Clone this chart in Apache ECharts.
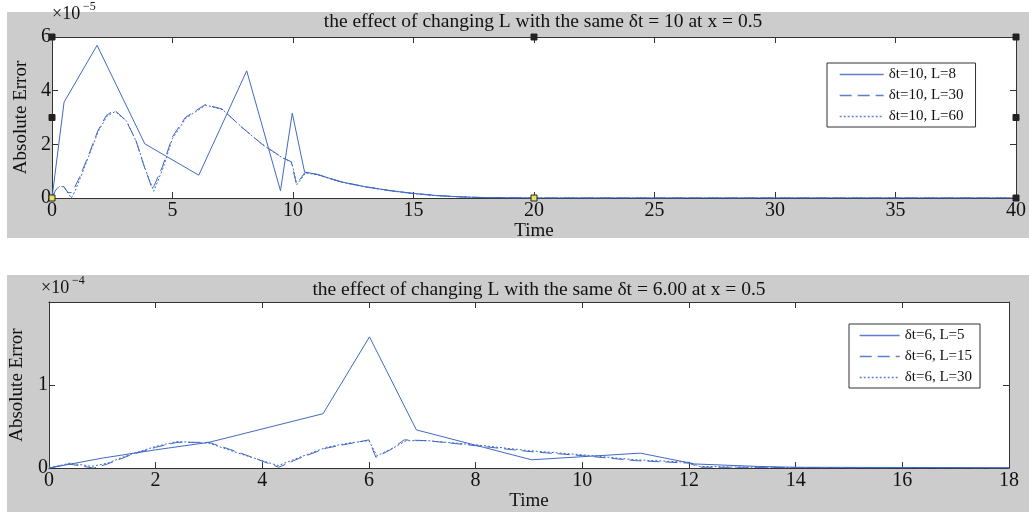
<!DOCTYPE html>
<html>
<head>
<meta charset="utf-8">
<script src="https://cdn.jsdelivr.net/npm/echarts@6/dist/echarts.min.js"></script>
<style>
  html, body { margin: 0; padding: 0; background: #fff; }
  #wrap { position: relative; width: 1029px; height: 512px; }
  .panel { position: absolute; background: #cccccc; }
  #chart { position: absolute; left: 0; top: 0; width: 1029px; height: 512px; }
</style>
</head>
<body>
<div id="wrap">
  <div class="panel" style="left:7px;top:12px;width:1022px;height:226px"></div>
  <div class="panel" style="left:7px;top:275px;width:1022px;height:237px"></div>
  <div id="chart"></div>
</div>
<script>
// ---- data (y in units of the axis multiplier) ----
// top panel: dt = 10, values x 1e-5
const topNames = ['δt=10, L=8', 'δt=10, L=30', 'δt=10, L=60'];
const topL8X = [0, 0.5, 1.87, 3.85, 6.09, 8.08, 9.48, 9.97, 10.48, 11, 12, 13, 14, 15, 16, 17, 18, 20, 40];
const topL8Y = [0, 3.57, 5.69, 2.02, 0.85, 4.74, 0.27, 3.16, 0.97, 0.88, 0.6, 0.42, 0.28, 0.17, 0.09, 0.04, 0.015, 0, 0];
const topL30X = [0, 0.15, 0.33, 0.5, 0.67, 0.8, 0.9, 1.15, 1.49, 1.91, 2.25, 2.59, 3.07, 3.48, 3.83, 4.17, 4.58, 4.99, 5.54, 6.36, 7.05, 7.87, 8.7, 9.52, 9.93, 10.14, 10.5, 11, 12, 13, 14, 15, 16, 17, 18, 20, 40];
const topL30Y = [0, 0.3, 0.46, 0.42, 0.2, 0.2, 0.32, 0.79, 1.53, 2.52, 3.07, 3.28, 2.89, 2.15, 1.16, 0.32, 1.16, 2.27, 3.01, 3.48, 3.32, 2.64, 2.02, 1.53, 1.35, 0.52, 0.95, 0.88, 0.6, 0.42, 0.28, 0.17, 0.09, 0.04, 0.015, 0, 0];
const topL60X = [0, 0.15, 0.33, 0.5, 0.67, 0.8, 0.95, 1.2, 1.52, 1.93, 2.28, 2.62, 3.1, 3.5, 3.86, 4.22, 4.6, 5.0, 5.56, 6.38, 7.07, 7.9, 8.72, 9.55, 9.95, 10.16, 10.52, 11, 12, 13, 14, 15, 16, 17, 18, 20, 40];
const topL60Y = [0, 0.28, 0.44, 0.4, 0.18, 0.0, 0.25, 0.8, 1.55, 2.5, 3.05, 3.22, 2.86, 2.1, 1.1, 0.25, 1.1, 2.22, 2.98, 3.46, 3.3, 2.62, 2.0, 1.5, 1.33, 0.5, 0.93, 0.87, 0.59, 0.41, 0.27, 0.16, 0.08, 0.04, 0.01, 0, 0];

// bottom panel: dt = 6, values x 1e-4
const botNames = ['δt=6, L=5', 'δt=6, L=15', 'δt=6, L=30'];
const botL5X = [0, 1, 2, 3, 5.14, 6.01, 6.89, 9.05, 11.09, 12.1, 13.3, 14, 18];
const botL5Y = [0, 0.12, 0.22, 0.31, 0.655, 1.58, 0.46, 0.1, 0.18, 0.05, 0.02, 0.01, 0.005];
const botL15X = [0, 0.37, 0.84, 1.1, 1.5, 2.0, 2.4, 3.0, 3.6, 4.31, 4.7, 5.2, 5.6, 6.0, 6.13, 6.4, 6.66, 7.1, 8.0, 9.0, 10.0, 11.0, 12.0, 12.2, 13, 14, 15, 16, 17, 18];
const botL15Y = [0, 0.05, 0.0, 0.05, 0.15, 0.25, 0.31, 0.31, 0.18, 0.01, 0.12, 0.24, 0.29, 0.34, 0.13, 0.22, 0.34, 0.33, 0.27, 0.2, 0.15, 0.09, 0.06, 0.01, 0.01, 0.006, 0.004, 0.003, 0.002, 0];
const botL30X = [0, 0.4, 0.8, 1.1, 1.5, 2.0, 2.4, 3.0, 3.6, 4.3, 4.7, 5.2, 5.6, 6.0, 6.15, 6.42, 6.7, 7.1, 8.0, 9.0, 10.0, 11.0, 12.0, 12.2, 13, 14, 15, 16, 17, 18];
const botL30Y = [0, 0.06, 0.02, 0.06, 0.16, 0.26, 0.32, 0.3, 0.17, 0.03, 0.13, 0.25, 0.3, 0.33, 0.15, 0.23, 0.33, 0.33, 0.28, 0.21, 0.16, 0.1, 0.07, 0.02, 0.012, 0.007, 0.004, 0.003, 0.002, 0];

const FONT = '"Liberation Serif", "Times New Roman", serif';
const BLUE = '#4169c4';
const AXIS = '#333';
const INK = '#111';

function pairs(xs, ys) { return xs.map((x, i) => [x, ys[i]]); }

function xAxes(grid, max, interval) {
  const base = {
    gridIndex: grid, type: 'value', min: 0, max: max, interval: interval,
    axisLine: { show: true, onZero: false, lineStyle: { color: AXIS, width: 1 } },
    axisTick: { show: true, inside: true, length: 6, lineStyle: { color: AXIS } },
    splitLine: { show: false }
  };
  return [
    Object.assign({}, base, {
      position: 'bottom',
      axisLabel: { fontFamily: FONT, fontSize: 20, color: INK, margin: 3 },
      name: 'Time', nameLocation: 'middle', nameGap: 22,
      nameTextStyle: { fontFamily: FONT, fontSize: 19, color: INK }
    }),
    Object.assign({}, base, { position: 'top', axisLabel: { show: false } })
  ];
}

function yAxes(grid, max, interval, hideTop, gap) {
  const base = {
    gridIndex: grid, type: 'value', min: 0, max: max, interval: interval,
    axisLine: { show: true, onZero: false, lineStyle: { color: AXIS, width: 1 } },
    axisTick: { show: true, inside: true, length: 6, lineStyle: { color: AXIS } },
    splitLine: { show: false }
  };
  return [
    Object.assign({}, base, {
      position: 'left',
      axisLabel: {
        fontFamily: FONT, fontSize: 20, color: INK, margin: 1,
        formatter: v => (hideTop && v === max) ? '' : String(v)
      },
      name: 'Absolute Error', nameLocation: 'middle', nameGap: gap,
      nameTextStyle: { fontFamily: FONT, fontSize: 19, color: INK }
    }),
    Object.assign({}, base, { position: 'right', axisLabel: { show: false } })
  ];
}

const styles = [
  { type: 'solid' },
  { type: [12, 6] },
  { type: [2, 2] }
];

function lineSeries(name, data, xi, yi, k) {
  return {
    name: name, type: 'line', data: data, xAxisIndex: xi, yAxisIndex: yi,
    symbol: 'none', animation: false, silent: true,
    lineStyle: Object.assign({ color: BLUE, width: 1 }, styles[k]),
    itemStyle: { color: BLUE }
  };
}

function legend(names, left, top, itemWidth, pad) {
  return {
    data: names, orient: 'vertical', left: left, top: top,
    backgroundColor: '#fff', borderColor: '#333', borderWidth: 1,
    padding: pad, itemGap: 6, itemWidth: itemWidth, itemHeight: 14,
    selectedMode: false,
    itemStyle: { opacity: 0, borderWidth: 0 },
    lineStyle: { width: 1.4, color: BLUE, opacity: 0.85 },
    textStyle: { fontFamily: FONT, fontSize: 15, color: INK }
  };
}

// the "x10^n" multiplier labels above each y axis
function multiplier(id, x, y, exp) {
  return [
    { type: 'text', id: id + 'a', left: x, top: y + 4,
      style: { text: '×10', fontFamily: FONT, fontSize: 18, fill: INK } },
    { type: 'text', id: id + 'b', left: x + 31, top: y,
      style: { text: exp, fontFamily: FONT, fontSize: 12, fill: INK } }
  ];
}

const chart = echarts.init(document.getElementById('chart'), null, { renderer: 'canvas' });

const labels = [].concat(multiplier('m5', 52, 1, '−5'), multiplier('m4', 41, 275, '−4'));

chart.setOption({
  backgroundColor: 'transparent',
  animation: false,
  title: [
    { text: 'the effect of changing L with the same δt = 10 at x = 0.5', left: 538, top: 7, textAlign: 'center',
      textStyle: { fontFamily: FONT, fontSize: 19.5, fontWeight: 'normal', color: INK } },
    { text: 'the effect of changing L with the same δt = 6.00 at x = 0.5', left: 534, top: 275, textAlign: 'center',
      textStyle: { fontFamily: FONT, fontSize: 19.5, fontWeight: 'normal', color: INK } }
  ],
  grid: [
    { left: 52, top: 37, width: 968, height: 161, show: true, backgroundColor: '#fff', borderWidth: 0 },
    { left: 45, top: 302, width: 964, height: 174, show: true, backgroundColor: '#fff', borderWidth: 0 }
  ],
  xAxis: [].concat(xAxes(0, 40, 5), xAxes(1, 18, 2)),
  yAxis: [].concat(yAxes(0, 6, 2, false, 21), yAxes(1, 2, 1, true, 20)),
  legend: [
    legend(topNames, 827, 63, 44, [4, 12, 3, 12]),
    legend(botNames, 849, 324, 40, [4, 8, 3, 10])
  ],
  graphic: labels,
  series: [
    lineSeries(topNames[0], pairs(topL8X, topL8Y), 0, 0, 0),
    lineSeries(topNames[1], pairs(topL30X, topL30Y), 0, 0, 1),
    lineSeries(topNames[2], pairs(topL60X, topL60Y), 0, 0, 2),
    lineSeries(botNames[0], pairs(botL5X, botL5Y), 2, 2, 0),
    lineSeries(botNames[1], pairs(botL15X, botL15Y), 2, 2, 1),
    lineSeries(botNames[2], pairs(botL30X, botL30Y), 2, 2, 2)
  ]
});

// selection handles on the top axes (corners and mid-points), placed through the axis scale
const handleSpots = [[0, 6], [20, 6], [40, 6], [0, 3], [40, 3], [0, 0], [20, 0], [40, 0]];
const handles = handleSpots.map((p, i) => {
  const px = chart.convertToPixel({ xAxisIndex: 0, yAxisIndex: 0 }, p);
  const yellow = (i === 5 || i === 6);
  return { type: 'rect', id: 'h' + i, shape: { x: px[0] - 3, y: px[1] - 3, width: 6, height: 6 }, z: 100,
    style: { fill: yellow ? '#e8e060' : '#222', stroke: '#222', lineWidth: 1 } };
});
chart.setOption({ graphic: labels.concat(handles) });
</script>
</body>
</html>
